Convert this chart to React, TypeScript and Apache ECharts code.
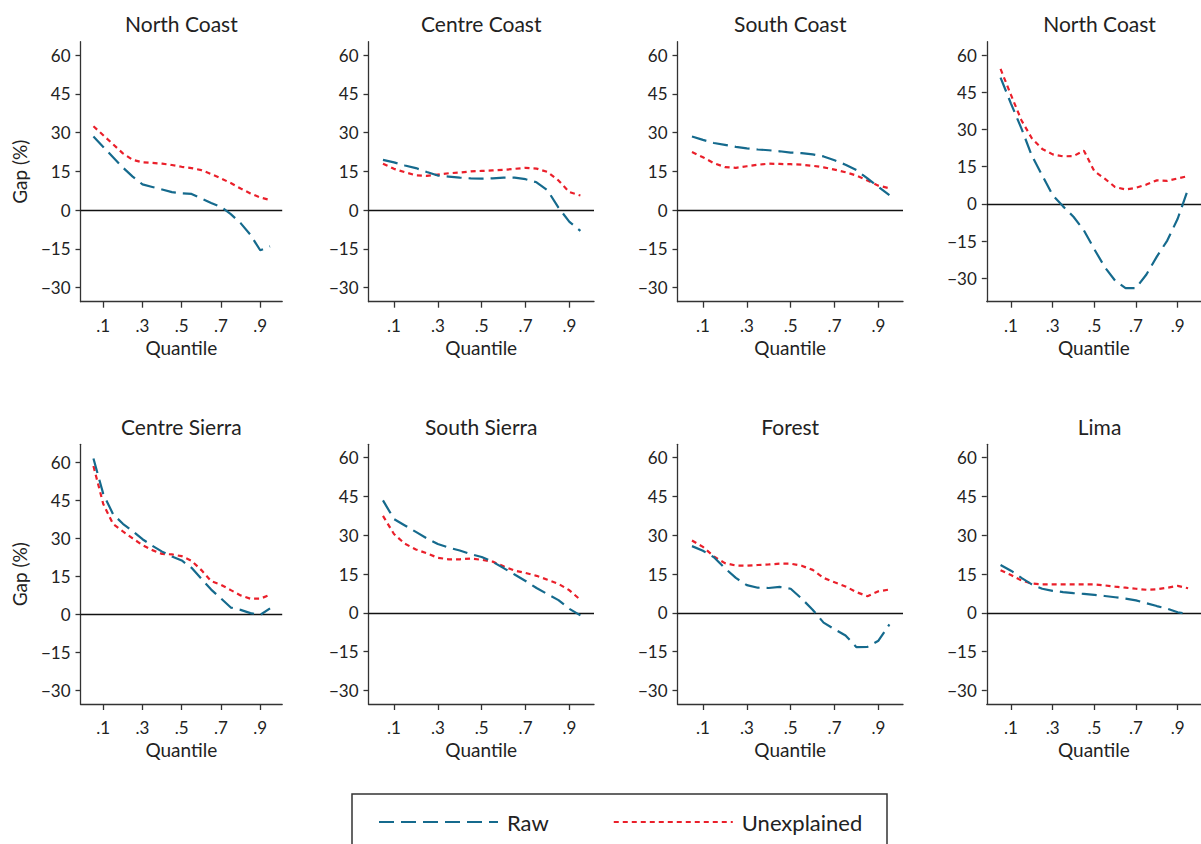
import React, { useEffect, useRef } from "react";
import * as echarts from "echarts";

// ---------- data ----------
const QUANTILES = [0.05, 0.1, 0.15, 0.2, 0.25, 0.3, 0.35, 0.4, 0.45, 0.5, 0.55, 0.6, 0.65, 0.7, 0.75, 0.8, 0.85, 0.9, 0.95];

const TITLES = ["North Coast", "Centre Coast", "South Coast", "North Coast", "Centre Sierra", "South Sierra", "Forest", "Lima"];

const northCoastRaw = [28.5, 24.5, 20.5, 16.5, 13, 10, 9, 8, 7, 6.5, 6.3, 4.5, 2.8, 1.3, -1.5, -5, -9.5, -15.5, -14];
const northCoastUnexp = [32.5, 29, 25.5, 22, 19.5, 18.5, 18.3, 18, 17.5, 16.8, 16.3, 15.5, 14, 12.3, 10.5, 8.4, 6.5, 4.9, 4];

const centreCoastRaw = [19.5, 18.5, 17.3, 16.3, 14.8, 13.4, 13, 12.6, 12.3, 12.2, 12.3, 12.6, 12.6, 12, 10.8, 7.7, 1.0, -4.5, -8];
const centreCoastUnexp = [18, 16, 14.7, 13.5, 13.3, 13.8, 14.3, 14.6, 15, 15.2, 15.4, 15.6, 16, 16.4, 16.1, 14.8, 11.5, 7, 5.7];

const southCoastRaw = [28.5, 27.2, 26, 25.3, 24.5, 23.9, 23.5, 23.2, 22.8, 22.3, 22.1, 21.6, 20.8, 19.3, 17.6, 15.5, 12.3, 9, 5.8];
const southCoastUnexp = [22.5, 20.5, 18.2, 16.7, 16.4, 17, 17.6, 18, 17.9, 17.8, 17.6, 17.2, 16.6, 15.7, 14.7, 13.4, 11.5, 9.5, 8.5];

const northCoast2Raw = [51, 40.5, 30.5, 19.5, 11.5, 3.5, -1, -5.2, -10.7, -18.3, -25.5, -31, -34, -34, -28.5, -21.3, -14.8, -6, 6];
const northCoast2Unexp = [54.5, 44, 33.8, 26.5, 22.2, 20, 19.2, 19.3, 21.5, 13.2, 10.2, 6.8, 5.8, 6.5, 7.8, 9.5, 9.3, 10.3, 11.2];

const centreSierraRaw = [61.5, 47.5, 39.5, 35.7, 32.8, 29.6, 27, 24.7, 22.8, 21.2, 18.3, 14, 9.7, 6.2, 2.6, 1.7, 0.4, -0.3, 2.3];
const centreSierraUnexp = [58.5, 43.5, 35.6, 32.7, 29.9, 27.3, 25.3, 23.8, 23.6, 22.9, 21.1, 17.4, 13, 11.6, 9.5, 7.4, 6.1, 6.1, 7.7];

const southSierraRaw = [43.5, 36.3, 33.8, 31.3, 28.8, 26.6, 25.2, 24.1, 22.7, 21.6, 19.7, 17.3, 14.8, 12.3, 9.6, 7.2, 4.9, 1.5, -1];
const southSierraUnexp = [37.5, 30.5, 26.7, 24.5, 23, 21.3, 20.7, 20.7, 21, 20.5, 19.8, 18, 16.3, 15.4, 14.3, 12.8, 11.2, 8.7, 5];

const forestRaw = [25.8, 24, 21.5, 17.3, 13.5, 10.7, 9.7, 9.6, 10, 9.3, 5.5, 1.2, -3.8, -6.4, -8.8, -13.3, -13.2, -10.8, -4.5];
const forestUnexp = [28, 25.5, 21.8, 19.2, 18.3, 18.2, 18.5, 18.7, 19, 19, 18.2, 16.6, 13.5, 11.8, 10.2, 8.0, 6.4, 8.3, 9];

const limaRaw = [18.5, 16.3, 13.5, 11, 9.3, 8.5, 8, 7.6, 7.3, 6.9, 6.5, 6, 5.5, 4.8, 3.7, 2.6, 1.6, 0.2, -0.5];
const limaUnexp = [16.5, 14.6, 12.5, 11.3, 11, 11, 11, 11, 11, 11, 10.6, 10.1, 9.7, 9.3, 8.9, 9.1, 9.7, 10.4, 9.5];

const RAW_SERIES = [northCoastRaw, centreCoastRaw, southCoastRaw, northCoast2Raw, centreSierraRaw, southSierraRaw, forestRaw, limaRaw];
const UNEXP_SERIES = [northCoastUnexp, centreCoastUnexp, southCoastUnexp, northCoast2Unexp, centreSierraUnexp, southSierraUnexp, forestUnexp, limaUnexp];

const X_TICKS = [0.1, 0.3, 0.5, 0.7, 0.9];
const Y_TICKS = [-30, -15, 0, 15, 30, 45, 60];
const Y_RANGES = [
  [-35.4, 65.2],
  [-35.4, 65.2],
  [-35.4, 65.2],
  [-39.5, 65.5],
  [-35.5, 67.1],
  [-35.3, 65.2],
  [-35.3, 65.2],
  [-35.3, 65.2],
];
const X_RANGE = [-0.016, 1.012];

// ---------- layout ----------
const COL_LEFT = [80.5, 368.5, 677.5, 986.8];
const COL_WIDTH = [201.7, 225.5, 225.5, 225.5];
const ROW_TOP = [41.7, 444.3];
const ROW_HEIGHT = [260, 259.7];
const TITLE_TOP = [13, 416];

const BLUE = "#156a8d";
const RED = "#ea1f2a";
const FONT = "Lato";
const TEXT = "#222";
const AXIS = "#333";

function fmtX(v: number) {
  return String(v).replace(/^0/, "");
}
function fmtY(v: number) {
  return v < 0 ? "\u2212" + Math.abs(v) : String(v);
}

export default function App() {
  const ref = useRef<HTMLDivElement>(null);

  useEffect(() => {
    if (!ref.current) return;
    const chart = echarts.init(ref.current, undefined, { renderer: "svg" });

    const grids: any[] = [];
    const xAxes: any[] = [];
    const yAxes: any[] = [];
    const series: any[] = [];
    const titles: any[] = [];

    for (let i = 0; i < 8; i++) {
      const r = Math.floor(i / 4);
      const c = i % 4;
      grids.push({
        left: COL_LEFT[c],
        top: ROW_TOP[r],
        width: COL_WIDTH[c],
        height: ROW_HEIGHT[r],
        containLabel: false,
      });
      titles.push({
        text: TITLES[i],
        left: COL_LEFT[c] + COL_WIDTH[c] / 2,
        top: TITLE_TOP[r],
        textAlign: "center",
        padding: 0,
        textStyle: { fontFamily: FONT, fontSize: 21, fontWeight: "normal", color: TEXT },
      });
      xAxes.push({
        type: "value",
        gridIndex: i,
        min: X_RANGE[0],
        max: X_RANGE[1],
        name: "Quantile",
        nameLocation: "middle",
        nameGap: 36,
        nameTextStyle: { fontFamily: FONT, fontSize: 19, color: TEXT },
        axisLine: { show: true, onZero: false, lineStyle: { color: AXIS, width: 1.3 } },
        axisTick: { show: true, length: 6, customValues: X_TICKS, lineStyle: { color: AXIS, width: 1.3 } },
        axisLabel: {
          customValues: X_TICKS,
          formatter: fmtX,
          margin: 15,
          fontFamily: FONT,
          fontSize: 17,
          color: TEXT,
        },
        splitLine: { show: false },
      });
      yAxes.push({
        type: "value",
        gridIndex: i,
        min: Y_RANGES[i][0],
        max: Y_RANGES[i][1],
        name: c === 0 ? "Gap (%)" : "",
        nameLocation: "middle",
        nameGap: 52,
        nameTextStyle: { fontFamily: FONT, fontSize: 19, color: TEXT },
        axisLine: { show: true, onZero: false, lineStyle: { color: AXIS, width: 1.3 } },
        axisTick: { show: true, length: 5, customValues: Y_TICKS, lineStyle: { color: AXIS, width: 1.3 } },
        axisLabel: {
          customValues: Y_TICKS,
          formatter: fmtY,
          margin: 10,
          fontFamily: FONT,
          fontSize: 17,
          color: TEXT,
        },
        splitLine: { show: false },
      });
      series.push({
        type: "line",
        name: "Raw",
        xAxisIndex: i,
        yAxisIndex: i,
        data: QUANTILES.map((q, j) => [q, RAW_SERIES[i][j]]),
        symbol: "none",
        lineStyle: { color: BLUE, width: 2.2, type: [15, 7] },
        itemStyle: { color: BLUE },
        z: 3,
        markLine: {
          silent: true,
          symbol: ["none", "none"],
          label: { show: false },
          lineStyle: { color: "#111", type: "solid", width: 1.3 },
          data: [{ yAxis: 0 }],
          z: 1,
        },
      });
      series.push({
        type: "line",
        name: "Unexplained",
        xAxisIndex: i,
        yAxisIndex: i,
        data: QUANTILES.map((q, j) => [q, UNEXP_SERIES[i][j]]),
        symbol: "none",
        lineStyle: { color: RED, width: 2.2, type: [5, 4] },
        itemStyle: { color: RED },
        z: 2,
      });
    }

    chart.setOption({
      animation: false,
      backgroundColor: "#fff",
      title: titles,
      grid: grids,
      xAxis: xAxes,
      yAxis: yAxes,
      series,
      legend: {
        data: ["Raw", "Unexplained"],
        left: 378,
        top: 811,
        itemWidth: 119,
        itemHeight: 14,
        itemGap: 64,
        padding: 0,
        itemStyle: { opacity: 0, borderWidth: 0 },
        textStyle: { fontFamily: FONT, fontSize: 22, color: TEXT, padding: [0, 0, 0, 4] },
        selectedMode: false,
      },
      graphic: [
        {
          type: "rect",
          shape: { x: 352, y: 794, width: 535, height: 80 },
          style: { fill: "none", stroke: AXIS, lineWidth: 1.5 },
          silent: true,
        },
      ],
    });

    return () => chart.dispose();
  }, []);

  return (
    <div
      ref={ref}
      style={{ position: "fixed", left: 0, top: 0, width: 1201, height: 844, background: "#fff" }}
    />
  );
}
